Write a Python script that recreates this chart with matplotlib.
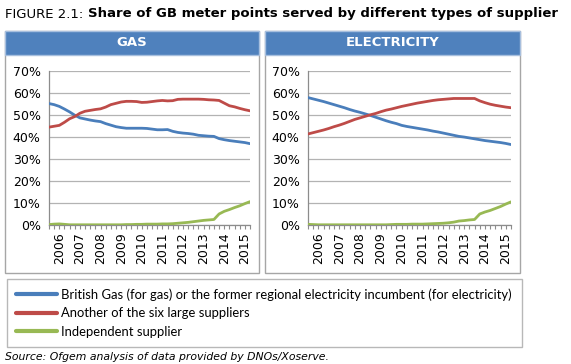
import matplotlib
matplotlib.use("Agg")
import matplotlib.pyplot as plt
from matplotlib.patches import Rectangle
from matplotlib.ticker import FuncFormatter, FixedLocator
import numpy as np

# ---------------- data (quarterly, 2005 Q3 .. 2015 Q2) ----------------
quarters = [f"{y} Q{q}" for y in range(2005, 2016) for q in range(1, 5)][2:42]
year_labels = ["2006", "2007", "2008", "2009", "2010", "2011", "2012", "2013", "2014", "2015"]

gas_incumbent = [55.1, 54.6, 53.8, 52.6, 51.3, 49.8, 48.6, 48.1, 47.6, 47.2,
                 46.9, 46.0, 45.3, 44.6, 44.2, 43.9, 43.9, 43.9, 43.9, 43.8,
                 43.5, 43.2, 43.2, 43.3, 42.5, 42.0, 41.7, 41.5, 41.2, 40.7,
                 40.5, 40.3, 40.2, 39.2, 38.7, 38.3, 38.0, 37.7, 37.4, 36.9]
gas_big6 = [44.4, 44.8, 45.2, 46.6, 48.2, 49.2, 50.7, 51.6, 52.0, 52.4,
            52.7, 53.5, 54.6, 55.2, 55.8, 56.1, 56.1, 56.0, 55.6, 55.7,
            56.0, 56.3, 56.5, 56.3, 56.4, 57.0, 57.1, 57.1, 57.1, 57.1,
            57.0, 56.8, 56.7, 56.5, 55.3, 54.1, 53.6, 52.9, 52.3, 51.8]
gas_indep = [0.2, 0.4, 0.5, 0.3, 0.1, 0.1, 0.1, 0.1, 0.1, 0.1,
             0.1, 0.1, 0.1, 0.1, 0.1, 0.2, 0.2, 0.3, 0.3, 0.4,
             0.4, 0.4, 0.5, 0.5, 0.6, 0.8, 1.0, 1.2, 1.5, 1.8,
             2.1, 2.3, 2.5, 5.0, 6.2, 7.0, 7.9, 8.7, 9.7, 10.6]

elec_incumbent = [57.8, 57.2, 56.6, 56.0, 55.3, 54.6, 53.9, 53.2, 52.4, 51.7,
                  51.1, 50.4, 49.7, 48.9, 48.1, 47.3, 46.6, 46.0, 45.2, 44.7,
                  44.3, 43.9, 43.5, 43.1, 42.6, 42.2, 41.7, 41.2, 40.7, 40.2,
                  39.9, 39.5, 39.1, 38.7, 38.3, 38.0, 37.7, 37.4, 37.0, 36.5]
elec_big6 = [41.3, 41.9, 42.5, 43.1, 43.8, 44.6, 45.3, 46.1, 47.0, 47.9,
             48.6, 49.3, 50.0, 50.6, 51.4, 52.1, 52.6, 53.2, 53.8, 54.3,
             54.8, 55.3, 55.7, 56.1, 56.5, 56.8, 57.0, 57.2, 57.4, 57.4,
             57.4, 57.4, 57.4, 56.3, 55.5, 54.8, 54.3, 53.9, 53.5, 53.2]
elec_indep = [0.3, 0.2, 0.1, 0.1, 0.1, 0.1, 0.1, 0.1, 0.1, 0.1,
              0.1, 0.1, 0.1, 0.1, 0.1, 0.1, 0.2, 0.3, 0.3, 0.3,
              0.4, 0.4, 0.4, 0.5, 0.6, 0.7, 0.8, 1.0, 1.3, 1.8,
              2.0, 2.3, 2.5, 5.0, 5.9, 6.6, 7.5, 8.4, 9.5, 10.5]

series_names = ["British Gas (for gas) or the former regional electricity incumbent (for electricity)",
                "Another of the six large suppliers",
                "Independent supplier"]
colors = ["#4A7EBB", "#BE4B48", "#98B954"]

# ---------------- figure ----------------
W, H = 571, 364
fig = plt.figure(figsize=(W / 100, H / 100), dpi=100)
fig.patch.set_facecolor("white")

def fx(px):
    return px / W

def fy(py):
    return 1 - py / H

# title
t1 = fig.text(fx(5), fy(14), "FIGURE 2.1: ", fontsize=9.5, family="DejaVu Sans",
              va="center", ha="left")
fig.canvas.draw()
bb = t1.get_window_extent()
fig.text(bb.x1 / W, fy(14), "Share of GB meter points served by different types of supplier",
         fontsize=9.5, fontweight="bold", family="DejaVu Sans", va="center", ha="left")

# panels
panels = [("GAS", 5, 259, 49, 250, gas_incumbent, gas_big6, gas_indep),
          ("ELECTRICITY", 265, 520, 308, 511, elec_incumbent, elec_big6, elec_indep)]

x = np.arange(len(quarters))
label_pos = [2 + 4 * i for i in range(len(year_labels))]
handles = []
for name, p0, p1, a0, a1, s1, s2, s3 in panels:
    # panel frame
    fig.patches.append(Rectangle((fx(p0), fy(273)), fx(p1 - p0), (273 - 31) / H,
                                 transform=fig.transFigure, facecolor="none",
                                 edgecolor="#A6A6A6", linewidth=1.0, zorder=-2))
    # header
    fig.patches.append(Rectangle((fx(p0), fy(55)), fx(p1 - p0), (55 - 31) / H,
                                 transform=fig.transFigure, facecolor="#4F81BD",
                                 edgecolor="#A7BFDE", linewidth=1.0, zorder=-1))
    fig.text(fx((p0 + p1) / 2), fy(43), name, color="white", fontsize=9.5,
             fontweight="bold", family="DejaVu Sans", ha="center", va="center")

    ax = fig.add_axes([fx(a0), fy(225), fx(a1 - a0), (225 - 70.7) / H])
    ax.set_facecolor("none")
    hs = []
    for s, c in zip([s1, s2, s3], colors):
        (ln,) = ax.plot(x, s, color=c, linewidth=2.0, solid_capstyle="round", zorder=3)
        hs.append(ln)
    handles = hs
    ax.set_xlim(0, len(quarters) - 1)
    ax.set_ylim(0, 70)
    ax.set_yticks(np.arange(0, 71, 10))
    ax.yaxis.set_major_formatter(FuncFormatter(lambda v, p: f"{int(v)}%"))
    ax.yaxis.grid(True, color="#B3B3B3", linewidth=0.9)
    ax.set_axisbelow(True)
    ax.set_xticks(label_pos)
    ax.set_xticklabels(year_labels, rotation=90, fontsize=9, family="DejaVu Sans")
    ax.xaxis.set_minor_locator(FixedLocator(list(x)))
    ax.tick_params(axis="x", which="both", direction="out", length=3, color="#8C8C8C",
                   width=0.8, pad=2)
    ax.tick_params(axis="y", length=0, labelsize=9, pad=6)
    for sp in ["top", "right"]:
        ax.spines[sp].set_visible(False)
    for sp in ["left", "bottom"]:
        ax.spines[sp].set_color("#8C8C8C")
        ax.spines[sp].set_linewidth(0.9)

# legend
leg = fig.legend(handles, series_names, loc="upper left",
                 bbox_to_anchor=(fx(7), fy(347), fx(522 - 7), (347 - 279) / H),
                 mode="expand", frameon=True, fancybox=False, ncol=1,
                 prop={"family": "Lato", "size": 9.4}, handlelength=3.1,
                 handletextpad=0.35, labelspacing=0.5, borderaxespad=0,
                 borderpad=0.7)
leg.get_frame().set_edgecolor("#A6A6A6")
leg.get_frame().set_linewidth(1.0)
for ln in leg.get_lines():
    ln.set_linewidth(3.0)

fig.text(fx(5), fy(357), "Source: Ofgem analysis of data provided by DNOs/Xoserve.",
         fontsize=7.8, style="italic", family="DejaVu Sans", ha="left", va="center")

fig.savefig("out.png", dpi=100)
